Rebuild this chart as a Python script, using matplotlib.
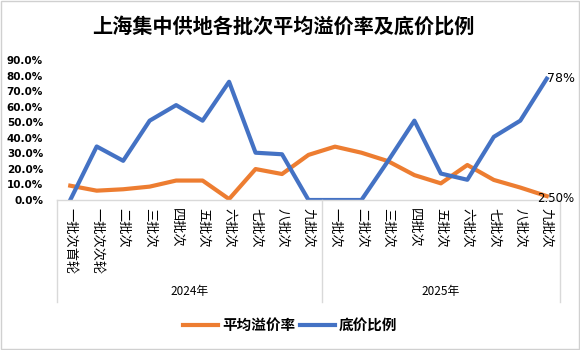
import matplotlib
matplotlib.use('Agg')
import matplotlib.pyplot as plt
import matplotlib.transforms as mtransforms
from matplotlib.patches import Rectangle
from matplotlib.ticker import FuncFormatter

plt.rcParams['font.family'] = ['Noto Sans CJK SC', 'DejaVu Sans']

# data
batches_2024 = ['一批次首轮', '一批次次轮', '二批次', '三批次', '四批次',
                '五批次', '六批次', '七批次', '八批次', '九批次']
batches_2025 = ['一批次', '二批次', '三批次', '四批次', '五批次',
                '六批次', '七批次', '八批次', '九批次']
years = ['2024年', '2025年']
categories = batches_2024 + batches_2025

avg_premium = [9.2, 6.0, 6.9, 8.6, 12.5, 12.5, 0.6, 19.9, 16.7, 29.0,
               34.3, 30.4, 25.0, 16.0, 10.7, 22.5, 12.9, 8.0, 2.5]
floor_ratio = [0, 34.4, 25.2, 51.0, 61.0, 51.0, 76.0, 30.4, 29.4, 0,
               0, 0, 25.0, 51.0, 17.0, 13.0, 40.6, 51.0, 78.0]

orange = '#ED7D31'
blue = '#4472C4'
grid_grey = '#D9D9D9'

fig = plt.figure(figsize=(5.8, 3.5), dpi=100)
ax = fig.add_axes([57 / 580, 1 - 200 / 350, 503 / 580, 140 / 350])

x = list(range(len(categories)))
ax.plot(x, avg_premium, color=orange, lw=3, solid_joinstyle='round', label='平均溢价率')
ax.plot(x, floor_ratio, color=blue, lw=3, solid_joinstyle='round', label='底价比例')

ax.set_xlim(-0.5, len(categories) - 0.5)
ax.set_ylim(0, 90)
ax.set_yticks(range(0, 91, 10))
ax.yaxis.set_major_formatter(FuncFormatter(lambda v, p: f'{v:.1f}%'))
for lab in ax.get_yticklabels():
    lab.set_fontweight('bold')
    lab.set_family('DejaVu Sans')
ax.tick_params(axis='y', length=0, labelsize=7.5, pad=10)

ax.set_xticks(x)
ax.set_xticklabels(categories, rotation=270, fontsize=9.5)
ax.tick_params(axis='x', length=0, pad=6)

for s in ['left', 'right', 'top']:
    ax.spines[s].set_visible(False)
ax.spines['bottom'].set_color(grid_grey)
ax.spines['bottom'].set_linewidth(1)

# group separators and year labels under the category axis
trans = mtransforms.blended_transform_factory(ax.transData, ax.transAxes)
n24 = len(batches_2024)
for bx in [-0.5, n24 - 0.5, len(categories) - 0.5]:
    ax.plot([bx, bx], [0, -0.73], color=grid_grey, lw=1, transform=trans, clip_on=False)
ax.text((n24 - 1) / 2, -0.655, years[0], transform=trans, ha='center', va='center', fontsize=8.5)
ax.text(n24 + (len(batches_2025) - 1) / 2, -0.655, years[1], transform=trans,
        ha='center', va='center', fontsize=8.5)

# end-point labels
ax.annotate(f'{floor_ratio[-1]:.0f}%', (x[-1], floor_ratio[-1]), xytext=(0, 0),
            textcoords='offset points', ha='left', va='center', fontsize=9,
            family='DejaVu Sans', annotation_clip=False)
ax.annotate(f'{avg_premium[-1]:.2f}%', (x[-1], avg_premium[-1]), xytext=(-7, -2),
            textcoords='offset points', ha='left', va='center', fontsize=8.5,
            family='DejaVu Sans', annotation_clip=False)

fig.text(283 / 580, 1 - 27 / 350, '上海集中供地各批次平均溢价率及底价比例',
         ha='center', va='center', fontsize=14.5, fontweight='bold')

fig.legend(loc='center', bbox_to_anchor=(0.5, 1 - 325 / 350), ncol=2, frameon=False,
           prop={'weight': 'bold', 'size': 10.5}, handlelength=2.4,
           handletextpad=0.3, columnspacing=0.3)

fig.patches.append(Rectangle((0.001, 0.002), 0.997, 0.996, transform=fig.transFigure,
                             fill=False, edgecolor='#D0D0D0', lw=1))

fig.savefig('out.png', dpi=100)
